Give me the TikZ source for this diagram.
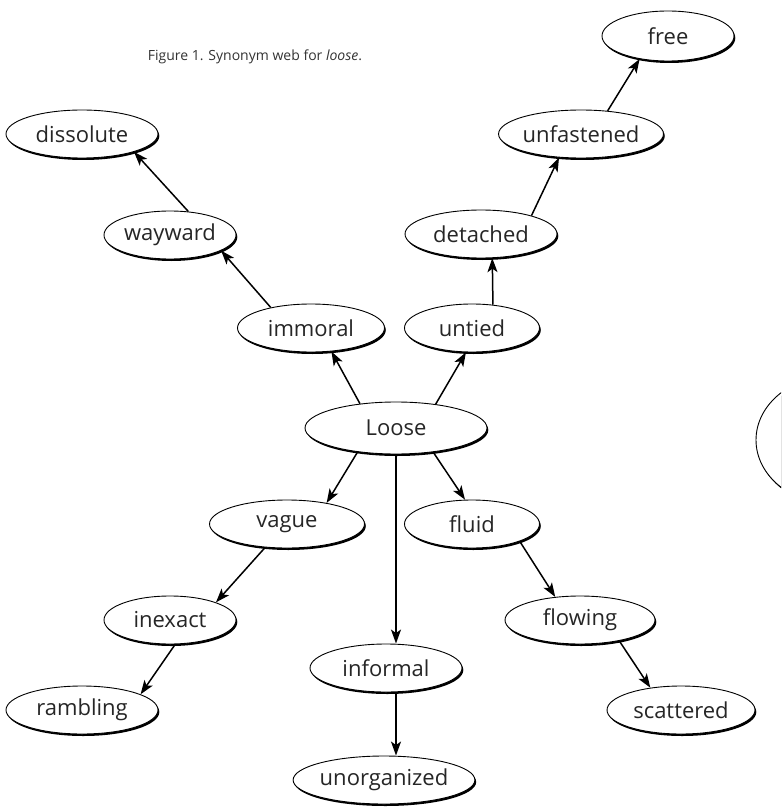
\documentclass[tikz,border=0pt]{standalone}
\usepackage{fontspec}
\setmainfont{Open Sans}[Ligatures=NoCommon]
\usetikzlibrary{shapes.geometric,shadows,arrows.meta}
\tikzset{
  word/.style={ellipse, draw=black, line width=0.9pt, fill=white, inner sep=0pt,
    minimum height=48pt, text=black!85, font=\fontsize{22}{26}\selectfont,
    drop shadow={shadow xshift=1.3pt, shadow yshift=-2pt, fill=black, opacity=1}},
  arr/.style={line width=1.5pt, -{Stealth[length=14pt,width=10pt,inset=3.5pt]}}
}
\begin{document}
\begin{tikzpicture}[x=1pt,y=-1pt]
\useasboundingbox (0,0) rectangle (781,810);
\node[font=\fontsize{14}{16}\selectfont, text=black!80] (cap) at (255,57) {Figure 1. Synonym web for \textit{loose}.};
\node[word, minimum width=132pt, minimum height=50pt] (free) at (668,36) {free};
\node[word, minimum width=155pt] (unfastened) at (581,134) {unfastened};
\node[word, minimum width=152pt] (dissolute) at (82,134) {dissolute};
\node[word, minimum width=132pt] (wayward) at (170,235) {wayward};
\node[word, minimum width=152pt] (detached) at (481,234) {detached};
\node[word, minimum width=147pt] (immoral) at (311,328) {immoral};
\node[word, minimum width=135pt] (untied) at (472,328) {untied};
\node[word, minimum width=182pt, minimum height=52pt] (Loose) at (396,428) {Loose};
\node[word, minimum width=155pt] (vague) at (287,524) {vague};
\node[word, minimum width=135pt] (fluid) at (472,524) {fluid};
\node[word, minimum width=132pt] (inexact) at (170,620) {inexact};
\node[word, minimum width=150pt] (flowing) at (580,620) {flowing};
\node[word, minimum width=152pt] (informal) at (386,668) {informal};
\node[word, minimum width=152pt] (rambling) at (82,710) {rambling};
\node[word, minimum width=148pt] (scattered) at (681,710) {scattered};
\node[word, minimum width=157pt] (unorganized) at (384,780) {unorganized};
\begin{scope}
\clip (0,0) rectangle (781,810);
\node[word, minimum width=160pt, minimum height=130pt] (edge) at (836,440) {};
\end{scope}
\draw[arr] (Loose.146.4) -- (immoral.-49.1);
\draw[arr] (Loose.31.1) -- (untied.-104.1);
\draw[arr] (Loose.-148.9) -- (vague.28.8);
\draw[arr] (Loose.-33.6) -- (fluid.106.3);
\draw[arr] (Loose.south) -- (Loose.south |- informal.north);
\draw[arr] (immoral.153.3) -- (wayward.-17.4);
\draw[arr] (wayward.52.1) -- (dissolute.-19.9);
\draw[arr] (untied.48.9) -- (detached.-65.1);
\draw[arr] (detached.20.5) -- (unfastened.-133.7);
\draw[arr] (unfastened.41) -- (free.-141.1);
\draw[arr] (vague.-133.7) -- (inexact.21.4);
\draw[arr] (inexact.-78.2) -- (rambling.15);
\draw[arr] (fluid.-20.9) -- (flowing.137.9);
\draw[arr] (flowing.-28.6) -- (scattered.144.9);
\draw[arr] (Loose.south |- informal.south) -- (Loose.south |- unorganized.north);
\end{tikzpicture}
\end{document}
